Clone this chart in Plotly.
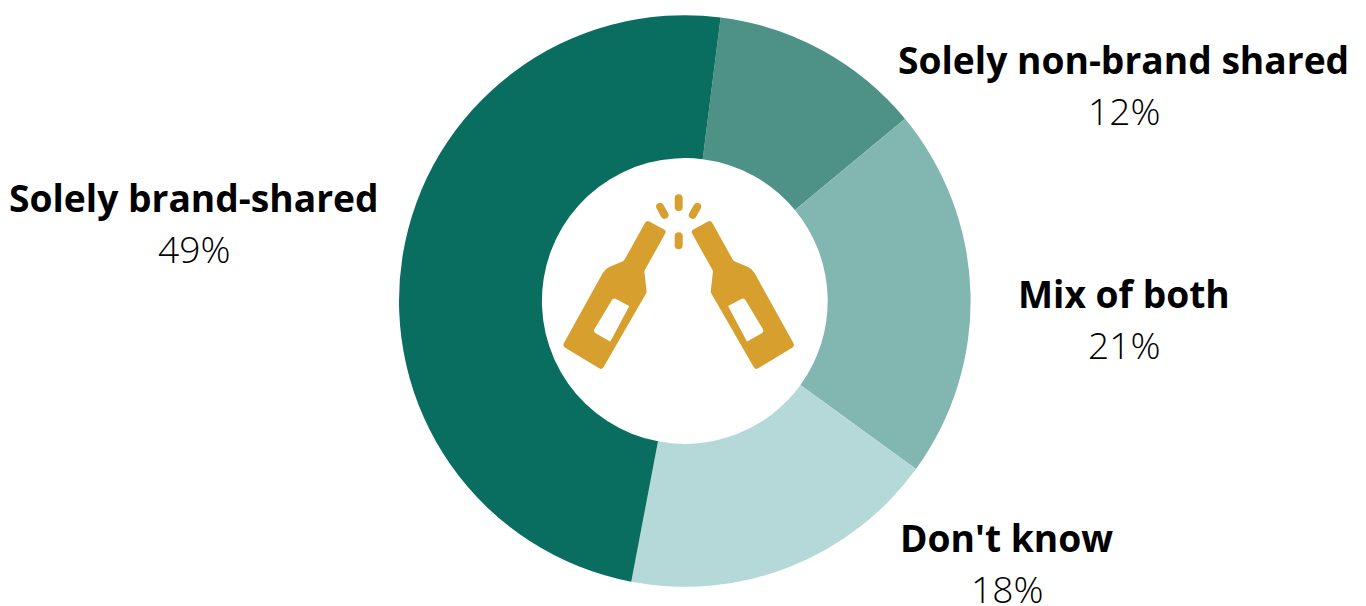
import math
import plotly.graph_objects as go

W, H = 1366, 606

# Survey shares, clockwise from the top of the ring
categories = ["Solely non-brand shared", "Mix of both", "Don't know", "Solely brand-shared"]
values = [12, 21, 18, 49]
slice_colors = ["#4d9187", "#82b6b0", "#b5d9d9", "#096e60"]

# Label anchors in page pixels: centre x, name line y, value line y
label_x = [1123.5, 1124, 1007, 193.5]
name_y = [59, 293, 537, 197]
value_y = [110.5, 344.5, 588.5, 248.5]

RING_CX, RING_CY, RING_R = 684.8, 301, 285.8
ICON_COLOR = "#d7a02e"
LABEL_SIZE = 37.2


def px(x, y):
    return x / W, 1 - y / H


def icon_xy(x, y, mirror=False):
    # Icon outlines are drawn on a 3x grid whose origin sits at (540, 170)
    if mirror:
        x = 832 - x
    return 540 + x / 3, 170 + y / 3


def rounded_poly(points, radii):
    n = len(points)
    parts = []
    for i in range(n):
        cur = points[i]
        prev = points[i - 1]
        nxt = points[(i + 1) % n]
        r = radii[i] / 3

        def toward(a, b, d):
            length = math.hypot(b[0] - a[0], b[1] - a[1])
            d = min(d, length / 2)
            return a[0] + (b[0] - a[0]) * d / length, a[1] + (b[1] - a[1]) * d / length

        a = toward(cur, prev, r)
        b = toward(cur, nxt, r)
        a_p = px(*a)
        c_p = px(*cur)
        b_p = px(*b)
        parts.append(f"{'M' if i == 0 else 'L'} {a_p[0]:.5f} {a_p[1]:.5f}")
        parts.append(f"Q {c_p[0]:.5f} {c_p[1]:.5f} {b_p[0]:.5f} {b_p[1]:.5f}")
    return " ".join(parts) + " Z"


bottle = [(320, 150), (380, 183), (313, 303), (320, 367), (186, 600),
          (67, 528), (195, 297), (252, 272)]
bottle_r = [9, 9, 3, 3, 10, 10, 14, 4]
label_hole = [(220, 383), (268, 408), (211, 515), (159, 485)]
hole_r = [9, 2, 2, 9]

# Sparks: end points of a rounded stroke, with stroke width in grid units
sparks = [((416, 85), (416, 111), 24), ((416, 199), (416, 226), 24),
          ((360, 110), (374, 135), 23), ((472, 110), (458, 135), 23)]


def bottle_path(mirror):
    outer = [icon_xy(x, y, mirror) for x, y in bottle]
    hole = [icon_xy(x, y, mirror) for x, y in label_hole]
    return rounded_poly(outer, bottle_r) + " " + rounded_poly(hole, hole_r)


def spark_path(p0, p1, width):
    a = icon_xy(*p0)
    b = icon_xy(*p1)
    r = width / 6
    length = math.hypot(b[0] - a[0], b[1] - a[1])
    nx, ny = (b[1] - a[1]) / length * r, -(b[0] - a[0]) / length * r
    ux, uy = (b[0] - a[0]) / length * r, (b[1] - a[1]) / length * r
    corners = [(a[0] + nx, a[1] + ny), (b[0] + nx, b[1] + ny),
               (b[0] + nx + ux, b[1] + ny + uy), (b[0] + ux, b[1] + uy),
               (b[0] - nx + ux, b[1] - ny + uy), (b[0] - nx, b[1] - ny),
               (a[0] - nx, a[1] - ny), (a[0] - nx - ux, a[1] - ny - uy),
               (a[0] - ux, a[1] - uy), (a[0] + nx - ux, a[1] + ny - uy)]
    P = [px(*c) for c in corners]
    return (f"M {P[0][0]:.5f} {P[0][1]:.5f} L {P[1][0]:.5f} {P[1][1]:.5f} "
            f"Q {P[2][0]:.5f} {P[2][1]:.5f} {P[3][0]:.5f} {P[3][1]:.5f} "
            f"Q {P[4][0]:.5f} {P[4][1]:.5f} {P[5][0]:.5f} {P[5][1]:.5f} "
            f"L {P[6][0]:.5f} {P[6][1]:.5f} "
            f"Q {P[7][0]:.5f} {P[7][1]:.5f} {P[8][0]:.5f} {P[8][1]:.5f} "
            f"Q {P[9][0]:.5f} {P[9][1]:.5f} {P[0][0]:.5f} {P[0][1]:.5f} Z")


shapes = []
for mirrored in (False, True):
    shapes.append(dict(type="path", xref="paper", yref="paper", path=bottle_path(mirrored),
                       fillcolor=ICON_COLOR, fillrule="evenodd", line=dict(width=0)))
for p0, p1, w in sparks:
    shapes.append(dict(type="path", xref="paper", yref="paper", path=spark_path(p0, p1, w),
                       fillcolor=ICON_COLOR, line=dict(width=0)))

annotations = []
for name, val, x, y0, y1 in zip(categories, values, label_x, name_y, value_y):
    xp, yp0 = px(x, y0)
    annotations.append(dict(text=f"<b>{name}</b>", x=xp, y=yp0, xref="paper", yref="paper",
                            showarrow=False, xanchor="center", yanchor="middle",
                            font=dict(family="Open Sans", size=LABEL_SIZE, color="#000000")))
    xp, yp1 = px(x, y1)
    annotations.append(dict(text=f"{val}%", x=xp, y=yp1, xref="paper", yref="paper",
                            showarrow=False, xanchor="center", yanchor="middle",
                            font=dict(family="Open Sans", size=LABEL_SIZE, color="#000000", weight=350)))

fig = go.Figure(go.Pie(
    labels=categories,
    values=values,
    sort=False,
    direction="clockwise",
    rotation=7.2,
    hole=0.5,
    textinfo="none",
    hoverinfo="label+percent",
    marker=dict(colors=slice_colors, line=dict(width=0)),
    domain=dict(
        x=[(RING_CX - RING_R) / W, (RING_CX + RING_R) / W],
        y=[1 - (RING_CY + RING_R) / H, 1 - (RING_CY - RING_R) / H],
    ),
))
fig.update_layout(
    width=W, height=H,
    margin=dict(l=0, r=0, t=0, b=0),
    paper_bgcolor="#ffffff",
    showlegend=False,
    shapes=shapes,
    annotations=annotations,
)
fig.write_html("out.html", config=dict(displayModeBar=False))
